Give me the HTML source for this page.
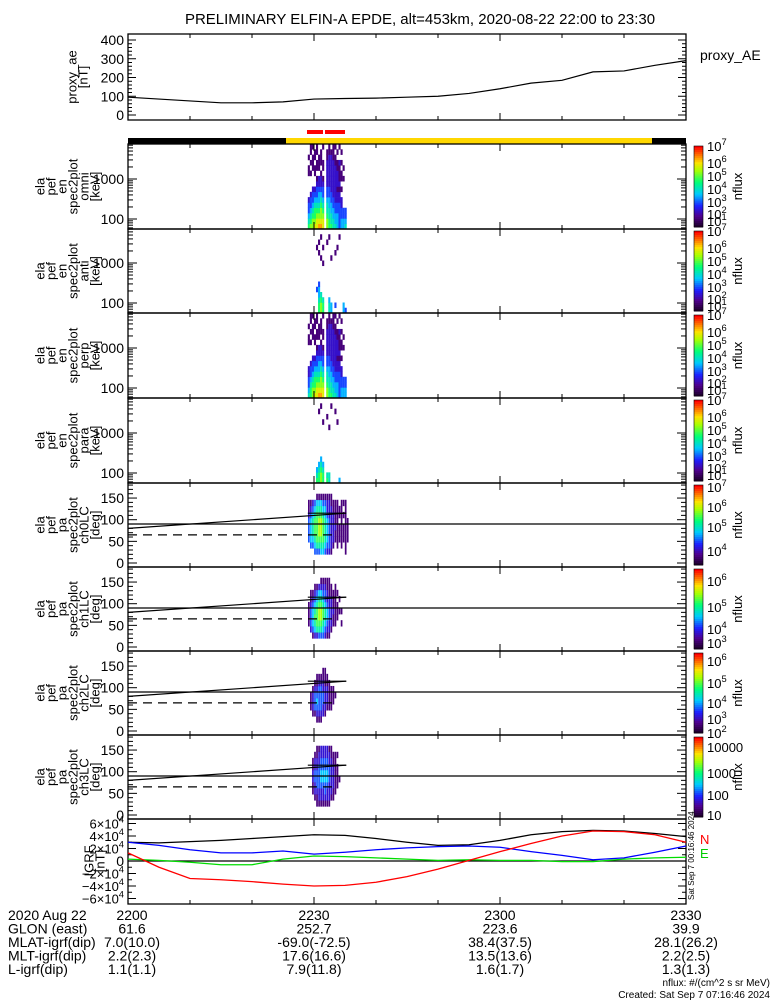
<!DOCTYPE html>
<html><head><meta charset="utf-8"><style>
body{margin:0;background:#fff}
svg{display:block;font-family:"Liberation Sans",sans-serif}
</style></head><body>
<svg id="c" width="775" height="1000" viewBox="0 0 775 1000" xmlns="http://www.w3.org/2000/svg"></svg>
<script>
// ---- data ----
const aeTimes=[0,5,10,15,20,25,30,35,40,45,50,55,60,65,70,75,80,85,90];
const aeValues=[95,85,75,65,65,70,85,88,90,95,100,115,140,170,185,230,235,265,290];
const igrfTimes=[0,5,10,15,20,25,30,35,40,45,50,55,60,65,70,75,80,85,90];
const igrfTotal=[3.0,2.9,3.1,3.3,3.6,3.9,4.2,4.1,3.6,3.0,2.5,2.6,3.3,4.2,4.7,4.9,4.8,4.4,3.9];
const igrfN=[1.3,-1.0,-2.8,-3.0,-3.3,-3.7,-4.0,-3.9,-3.4,-2.5,-1.3,0.1,1.5,2.8,4.0,4.8,4.7,4.2,3.0];
const igrfD=[3.0,2.5,1.8,1.3,1.3,1.6,1.1,1.4,1.8,2.1,2.3,2.4,2.2,1.5,0.9,0.2,0.5,1.4,2.4];
const igrfE=[0.3,0.1,-0.2,-0.6,-0.6,0.3,0.8,0.7,0.5,0.3,0.1,0.2,0.1,0.1,-0.1,-0.1,0.3,0.5,0.6];
const specStart=29.0, specStep=0.33;
const omni=["6543320000110100","7654332000101011","7765433200011101","8766543200110110","8876543321011011","9876544322011100","9877654322101110","8876543321011001","0000000000000000","7765543322222110","6655443322222211","6554433222222210","5544332222222111","5443322222221101","4443322122211010","3333322121112001","4433220101101010","4433000001010000","5433000000000000"];
const anti=["0000000000000000","0000000000000000","0000000000000000","0000000000000000","0000300000001000","6654430000010100","7765000000100010","6650000001001000","0000000000000000","0000000000000100","5540000000000010","4400000000100000","0000000000000000","0300000000010000","0000000000001000","0000000000000010","0000000000000000","4400000000000000","3000000000000000"];
const perp=["5433220000110100","6654332000101011","7765433200011101","8766543200110110","8876543321011011","9876544322011100","9877654322101110","8876543321011001","0000000000000000","7765543322222110","6655443322222211","6554433222222210","5544332222222111","5443322222221101","4443322122211010","3333322121112001","4433220101101010","4433000001010000","4433000000000000"];
const para=["0000000000000000","0000000000000000","0000000000000000","0000000000000000","6540000000000000","6654000000000100","7765400000000010","6654000000010000","0000000000000000","6500000000001000","5500000000100000","0000000000000010","0000000000000000","0000000000000100","0000000000010000","4000000000000000","0000000000000000","0000000000000000","0000000000000000"];
const ch0=["0033332110","0344443210","0345554320","3456665430","3566666541","3567776541","4567776541","4566665431","3455554431","2344443221","2333332221","1222222211","0122222110","0011211110","0111111110","0011101100","0111111110","0011101010","1111111110","0011110000"];
const ch1=["0011110000","0233321100","1344432100","2456543210","2566654310","3567765420","3567765421","3456654321","2345543321","1234432211","1223322111","0122222110","0011211100","0011111110","0001110100","0000101000","0010100000","0000000000","0000000000","0000000000"];
const ch2=["0000000000","0011100000","0122210000","0133321000","1234321100","1233332100","1233332100","0223322110","0122221110","0012221100","0011111000","0011110000","0001110000","0000100000","0000000000","0000000000","0000000000","0000000000","0000000000","0000000000"];
const ch3=["0000000000","0000000000","0011221100","0122332210","1123332211","1223333221","1223443322","1223443322","1233443322","1223443322","1222333221","0122222211","0112222110","0011111110","0001111010","0000100000","0000000000","0000000000","0000000000","0000000000"];

const NS='http://www.w3.org/2000/svg';
const svg=document.getElementById('c');
function el(tag,attrs,parent){const e=document.createElementNS(NS,tag);for(const k in attrs)e.setAttribute(k,attrs[k]);(parent||svg).appendChild(e);return e;}
const X0=128,X1=686;
const xT=t=>X0+(X1-X0)*t/90;
function cmap(f){const st=[[0,[32,0,48]],[0.12,[80,0,140]],[0.25,[30,30,255]],[0.4,[0,200,255]],[0.55,[0,255,120]],[0.7,[170,255,0]],[0.8,[255,225,0]],[0.9,[255,110,0]],[1,[255,0,0]]];
 f=Math.max(0,Math.min(1,f));for(let i=1;i<st.length;i++){if(f<=st[i][0]){const a=st[i-1],b=st[i],u=(f-a[0])/(b[0]-a[0]);return 'rgb('+a[1].map((v,j)=>Math.round(v+(b[1][j]-v)*u)).join(',')+')';}}return 'rgb(255,0,0)';}
function txt(x,y,s,size,anchor,parent){const t=el('text',{x:x,y:y,'font-size':size||14,'text-anchor':anchor||'start',fill:'#000'},parent);t.textContent=s;return t;}
function pow(x,y,base,exp,size,anchor){const t=el('text',{x:x,y:y,'font-size':size,'text-anchor':anchor||'end'});const a=el('tspan',{},t);a.textContent=base;const b=el('tspan',{dy:-6,'font-size':size*0.72},t);b.textContent=exp;return t;}
function timeTicks(top,bot){for(let t=10;t<90;t+=10){const L=(t%30==0)?7:4;const x=xT(t);el('line',{x1:x,y1:bot,x2:x,y2:bot-L,stroke:'#000'});el('line',{x1:x,y1:top,x2:x,y2:top+L,stroke:'#000'});}}
function box(top,bot,name){el('rect',{x:X0,y:top,width:X1-X0,height:bot-top,fill:'none',stroke:'#000','stroke-width':1.3,});}
function ylabel(lines,cy,cx){const g=el('g',{transform:`translate(${cx},${cy}) rotate(-90)`});const n=lines.length;lines.forEach((s,i)=>{txt(0,(i-(n-1)/2)*11+4,s,13,'middle',g);});}

const ti=txt(420,24,'PRELIMINARY ELFIN-A EPDE, alt=453km, 2020-08-22 22:00 to 23:30',15,'middle');


// ---- AE panel ----
const aeTop=34,aeBot=120;const aeY=v=>115-v*75/400;
box(aeTop,aeBot,'proxy-ae-panel');
for(let v=0;v<=400;v+=20){const y=aeY(v),L=(v%100==0)?8:4;el('line',{x1:X0,y1:y,x2:X0+L,y2:y,stroke:'#000'});el('line',{x1:X1,y1:y,x2:X1-L,y2:y,stroke:'#000'});}
[0,100,200,300,400].forEach(v=>txt(124,aeY(v)+5,String(v),14,'end'));
timeTicks(aeTop,aeBot);
el('path',{d:aeTimes.map((t,i)=>(i?'L':'M')+xT(t)+','+aeY(aeValues[i])).join(''),fill:'none',stroke:'#000','stroke-width':1.2,});
ylabel(['proxy_ae','[nT]'],77,78);
const pl=txt(700,60,'proxy_AE',14);

el('rect',{x:X0,y:138,width:286-X0,height:6,fill:'#000',});
el('rect',{x:286,y:138,width:652-286,height:6,fill:'#ffd700',});
el('rect',{x:652,y:138,width:X1-652,height:6,fill:'#000',});
el('rect',{x:307,y:130,width:16,height:4,fill:'#f00',});
el('rect',{x:325,y:130,width:20,height:4,fill:'#f00',});

function colorbar(top,bot,labels,name){const n=40,h=(bot-top)/n;for(let i=0;i<n;i++){el('rect',{x:694,y:top+i*h,width:9,height:h+0.5,fill:cmap(1-i/(n-1))});}
 el('rect',{x:694,y:top,width:9,height:bot-top,fill:'none',stroke:'#000','stroke-width':0.6,});
 labels.forEach(l=>{if(l[2])txt(707,l[0]+5,l[1],13);else pow(707,l[0]+5,'10',l[1],13,'start');});
 const g=el('g',{transform:`translate(742,${(top+bot)/2}) rotate(-90)`});txt(0,0,'nflux',13,'middle',g);}

// ---- energy spectrograms ----
const ePanels=[[144,229,omni,'omni'],[229,313,anti,'anti'],[313,398,perp,'perp'],[398,483,para,'para']];
ePanels.forEach((p,pi)=>{const [top,bot,data,nm]=p;
 const eY=lg=>(bot-10)-(lg-2)*40;const nb=16;const bh=(bot-top)/nb;
 data.forEach((col,ci)=>{const x=xT(specStart+ci*specStep);col.split('').forEach((d,bi)=>{const v=+d;if(!v)return;const r=el('rect',{x:x,y:bot-(bi+1)*bh,width:2.1,height:bh+0.3,fill:cmap(v/10.5)});});});
 box(top,bot,'spectrogram-'+nm);
 for(let dec=1;dec<=3;dec++)for(let m=1;m<10;m++){const lg=dec+Math.log10(m);const y=eY(lg);if(y<top||y>bot)continue;const L=m==1?9:5;el('line',{x1:X0,y1:y,x2:X0+L,y2:y,stroke:'#000'});el('line',{x1:X1,y1:y,x2:X1-L,y2:y,stroke:'#000'});}
 txt(124,eY(2)+5,'100',14,'end');txt(124,eY(3)+5,'1000',14,'end');
 timeTicks(top,bot);
 ylabel(['ela','pef','en','spec2plot',nm,'[keV]'],(top+bot)/2,68);
 colorbar(top+2,bot-2,[[top+2,'7'],[top+19,'6'],[top+32,'5'],[top+45,'4'],[top+58,'3'],[top+70,'2'],[top+77,'1']],'colorbar-'+nm);
});

// ---- pitch angle panels ----
const paPanels=[[483,567,ch0,'ch0LC',[['7',2],['6',22],['5',42],['4',66]]],[567,651,ch1,'ch1LC',[['6',12],['5',38],['4',60],['3',74]]],[651,735,ch2,'ch2LC',[['6',8],['5',30],['4',50],['3',66],['2',80]]],[735,819,ch3,'ch3LC',[['10000',10,1],['1000',36,1],['100',58,1],['10',78,1]]]];
paPanels.forEach(p=>{const [top,bot,data,nm,cl]=p;const pY=a=>bot-4-a*0.433;
 data.forEach((col,ci)=>{const x=xT(specStart+ci*specStep);col.split('').forEach((d,bi)=>{const v=+d;if(!v)return;const a0=20+bi*14;const r=el('rect',{x:x+0.2,y:pY(a0+14),width:1.7,height:14*0.433+0.3,fill:cmap(v/10)});});});
 box(top,bot,'pitch-angle-'+nm);
 for(let a=0;a<=180;a+=10){const y=pY(a);if(y<top)continue;const L=a%50==0?9:5;el('line',{x1:X0,y1:y,x2:X0+L,y2:y,stroke:'#000'});el('line',{x1:X1,y1:y,x2:X1-L,y2:y,stroke:'#000'});}
 [0,50,100,150].forEach(a=>txt(124,pY(a)+5,String(a),14,'end'));
 timeTicks(top,bot);
 el('line',{x1:X0,y1:pY(90),x2:X1,y2:pY(90),stroke:'#000','stroke-width':1.2,});
 el('line',{x1:X0,y1:pY(80),x2:xT(35.2),y2:pY(115),stroke:'#000','stroke-width':1.2,});
 el('line',{x1:xT(29),y1:pY(115),x2:xT(35.2),y2:pY(115),stroke:'#000','stroke-width':1.2});
 el('line',{x1:X0,y1:pY(65),x2:xT(33.5),y2:pY(65),stroke:'#000','stroke-width':1.2,'stroke-dasharray':'9,6',});
 ylabel(['ela','pef','pa','spec2plot',nm,'[deg]'],(top+bot)/2,68);
 colorbar(top+2,bot-2,cl.map(c=>[top+2+c[1],c[0],c[2]]),'colorbar-'+nm);
});

// ---- IGRF panel ----
const gTop=819,gBot=904;const gY=v=>861-v*6.25;
box(gTop,gBot,'igrf-panel');
for(let v=-6;v<=6;v+=1){const y=gY(v);const L=v%2==0?8:4;el('line',{x1:X0,y1:y,x2:X0+L,y2:y,stroke:'#000'});el('line',{x1:X1,y1:y,x2:X1-L,y2:y,stroke:'#000'});}
[6,4,2,-2,-4,-6].forEach(v=>pow(124,gY(v)+5,(v<0?'−':'')+Math.abs(v)+'×10','4',13,'end'));
txt(124,gY(0)+5,'0',14,'end');
timeTicks(gTop,gBot);
el('line',{x1:X0,y1:gY(0),x2:X1,y2:gY(0),stroke:'#000','stroke-width':1.2});
[[igrfTotal,'#000','igrf-total'],[igrfD,'#00f','igrf-d'],[igrfE,'#0d0','igrf-e'],[igrfN,'#f00','igrf-n']].forEach(s=>{
 el('path',{d:igrfTimes.map((t,i)=>(i?'L':'M')+xT(t)+','+gY(s[0][i])).join(''),fill:'none',stroke:s[1],'stroke-width':1.3,});});
ylabel(['IGRF','[nT]'],861,95);
txt(700,844,'N',13).setAttribute('fill','#f00');
const le=txt(700,858,'E',13);le.setAttribute('fill','#0c0');
const gd=el('g',{transform:'translate(694,900) rotate(-90)'});txt(0,0,'Sat Sep  7 00:16:46 2024',8,'start',gd);

// ---- footer ----
const rows=[['2020 Aug 22','2200','2230','2300','2330'],['GLON (east)','61.6','252.7','223.6','39.9'],['MLAT-igrf(dip)','7.0(10.0)','-69.0(-72.5)','38.4(37.5)','28.1(26.2)'],['MLT-igrf(dip)','2.2(2.3)','17.6(16.6)','13.5(13.6)','2.2(2.5)'],['L-igrf(dip)','1.1(1.1)','7.9(11.8)','1.6(1.7)','1.3(1.3)']];
rows.forEach((r,i)=>{const y=920+i*13.5;const l=txt(8,y,r[0],14);
 [[132,1],[314,2],[500,3],[686,4]].forEach(c=>txt(c[0],y,r[c[1]],14,'middle'));});
txt(770,986,'nflux: #/(cm^2 s sr MeV)',10,'end');
txt(770,998,'Created: Sat Sep  7 07:16:46 2024',10,'end');
</script>
</body></html>
